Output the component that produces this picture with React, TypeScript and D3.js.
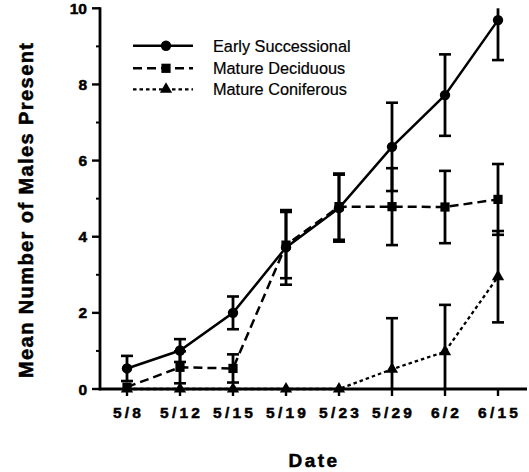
import React, { useEffect, useRef } from 'react'
import * as d3 from 'd3'

// dates along the x axis
const dates = ['5/8', '5/12', '5/15', '5/19', '5/23', '5/29', '6/2', '6/15']

// mean number of males present, with the error bar half-widths
const earlySuccessional = [0.54, 1.01, 2.0, 3.72, 4.75, 6.36, 7.72, 9.69]
const earlyErr = [0.33, 0.3, 0.43, 0.98, 0.88, 1.16, 1.07, 1.05]
const matureDeciduous = [0.05, 0.57, 0.54, 3.78, 4.79, 4.79, 4.78, 4.98]
const deciduousErr = [0, 0.42, 0.37, 0.87, 0.87, 1.01, 0.95, 0.93]
const matureConiferous = [0, 0, 0, 0, 0, 0.52, 0.98, 2.95]
const coniferousErr = [0, 0, 0, 0, 0, 1.34, 1.23, 1.2]

const seriesNames = ['Early Successional', 'Mature Deciduous', 'Mature Coniferous']
const yTicks = [0, 2, 4, 6, 8, 10]
const yMinor = [1, 3, 5, 7, 9]

const width = 529
const height = 472
const font = '"Liberation Sans", Arial, Helvetica, sans-serif'

const App = () => {
    const svgRef = useRef(null)

    useEffect(() => {
        const svg = d3.select(svgRef.current)
        svg.selectAll('*').remove()

        //  scales
        const xScale = d3.scalePoint().domain(dates).range([127, 498])
        const yScale = d3.scaleLinear().domain([0, 10]).range([389, 8.3])
        const axisX0 = 100
        const axisX1 = 527

        const series = [
            { name: seriesNames[0], values: earlySuccessional, err: earlyErr, dash: null, shape: d3.symbolCircle, size: 85, sw: 2.5 },
            { name: seriesNames[1], values: matureDeciduous, err: deciduousErr, dash: '9,5', shape: d3.symbolSquare, size: 85, sw: 2.5 },
            { name: seriesNames[2], values: matureConiferous, err: coniferousErr, dash: '3.5,3', shape: d3.symbolTriangle, size: 65, sw: 2.3 },
        ]

        const line = d3.line()
            .x((d) => xScale(d.date))
            .y((d) => yScale(d.value))

        // error bars
        series.forEach((s) => {
            const g = svg.append('g')
            s.values.forEach((v, i) => {
                if (!s.err[i]) return
                const x = xScale(dates[i])
                const hi = Math.min(10, v + s.err[i])
                const lo = Math.max(0, v - s.err[i])
                g.append('line')
                    .attr('x1', x).attr('x2', x)
                    .attr('y1', yScale(hi)).attr('y2', yScale(lo))
                    .attr('stroke', '#000').attr('stroke-width', 2.8)
                if (v + s.err[i] <= 10) {
                    g.append('line')
                        .attr('x1', x - 6).attr('x2', x + 6)
                        .attr('y1', yScale(hi)).attr('y2', yScale(hi))
                        .attr('stroke', '#000').attr('stroke-width', 2.6)
                }
                if (v - s.err[i] > 0) {
                    g.append('line')
                        .attr('x1', x - 6).attr('x2', x + 6)
                        .attr('y1', yScale(lo)).attr('y2', yScale(lo))
                        .attr('stroke', '#000').attr('stroke-width', 2.6)
                }
            })
        })

        // lines + markers
        series.forEach((s) => {
            const pts = s.values.map((v, i) => ({ date: dates[i], value: v }))
            svg.append('path')
                .attr('d', line(pts))
                .attr('fill', 'none')
                .attr('stroke', '#000')
                .attr('stroke-width', s.sw)
                .attr('stroke-dasharray', s.dash)
            svg.append('g').selectAll('path')
                .data(pts)
                .join('path')
                .attr('transform', (d) => `translate(${xScale(d.date)},${yScale(d.value)})`)
                .attr('d', d3.symbol().type(s.shape).size(s.size))
                .attr('fill', '#000')
        })

        //  axes
        const axis = svg.append('g')
        axis.append('line')
            .attr('x1', axisX0).attr('x2', axisX0)
            .attr('y1', yScale(10) - 1).attr('y2', yScale(0) + 1.3)
            .attr('stroke', '#000').attr('stroke-width', 2.8)
        axis.append('line')
            .attr('x1', axisX0 - 1.3).attr('x2', axisX1)
            .attr('y1', yScale(0)).attr('y2', yScale(0))
            .attr('stroke', '#000').attr('stroke-width', 2.8)

        const boldText = (sel) => sel
            .attr('font-family', font).attr('font-weight', 'bold')
            .attr('stroke', '#000').attr('stroke-width', 0.5)

        yTicks.forEach((t) => {
            axis.append('line')
                .attr('x1', axisX0 - 8).attr('x2', axisX0)
                .attr('y1', yScale(t)).attr('y2', yScale(t))
                .attr('stroke', '#000').attr('stroke-width', 2.4)
            axis.append('text')
                .attr('x', 87).attr('y', yScale(t))
                .attr('dy', '0.36em')
                .attr('text-anchor', 'end')
                .attr('font-size', 15.5)
                .call(boldText)
                .text(t)
        })
        yMinor.forEach((t) => {
            axis.append('line')
                .attr('x1', axisX0 - 4).attr('x2', axisX0)
                .attr('y1', yScale(t)).attr('y2', yScale(t))
                .attr('stroke', '#000').attr('stroke-width', 2)
        })

        dates.forEach((d) => {
            const x = xScale(d)
            axis.append('line')
                .attr('x1', x).attr('x2', x)
                .attr('y1', yScale(0)).attr('y2', yScale(0) + 7)
                .attr('stroke', '#000').attr('stroke-width', 2.4)
            axis.append('text')
                .attr('x', x + 1.6).attr('y', 418)
                .attr('text-anchor', 'middle')
                .attr('letter-spacing', 3.2)
                .attr('font-size', 15.5)
                .call(boldText)
                .text(d)
        })

        // axis titles
        svg.append('text')
            .attr('x', 314).attr('y', 466.5)
            .attr('text-anchor', 'middle')
            .attr('letter-spacing', 2.4)
            .attr('font-size', 19)
            .call(boldText)
            .text('Date')

        svg.append('text')
            .attr('transform', 'translate(33,378) rotate(-90)')
            .attr('x', 0).attr('y', 0)
            .attr('textLength', 335)
            .attr('lengthAdjust', 'spacing')
            .attr('font-size', 20)
            .call(boldText)
            .text('Mean Number of Males Present')

        //  legend
        const legendY = [45.7, 68.3, 89.3]
        series.forEach((s, i) => {
            const lg = svg.append('g').attr('transform', `translate(0,${legendY[i]})`)
            lg.append('line')
                .attr('x1', 133).attr('x2', 193)
                .attr('y1', 0).attr('y2', 0)
                .attr('stroke', '#000')
                .attr('stroke-width', s.sw)
                .attr('stroke-dasharray', s.dash)
            lg.append('path')
                .attr('transform', 'translate(166,0)')
                .attr('d', d3.symbol().type(s.shape).size(s.size))
                .attr('fill', '#000')
            lg.append('text')
                .attr('x', 213).attr('y', 0)
                .attr('dy', '0.36em')
                .attr('font-family', font).attr('font-size', 16.3)
                .attr('stroke', '#000').attr('stroke-width', 0.2)
                .text(s.name)
        })
    }, [])

    return (
        <svg ref={svgRef} width={width} height={height}
            style={{ position: 'absolute', left: 0, top: 0, background: '#fff' }} />
    )
}

export default App
